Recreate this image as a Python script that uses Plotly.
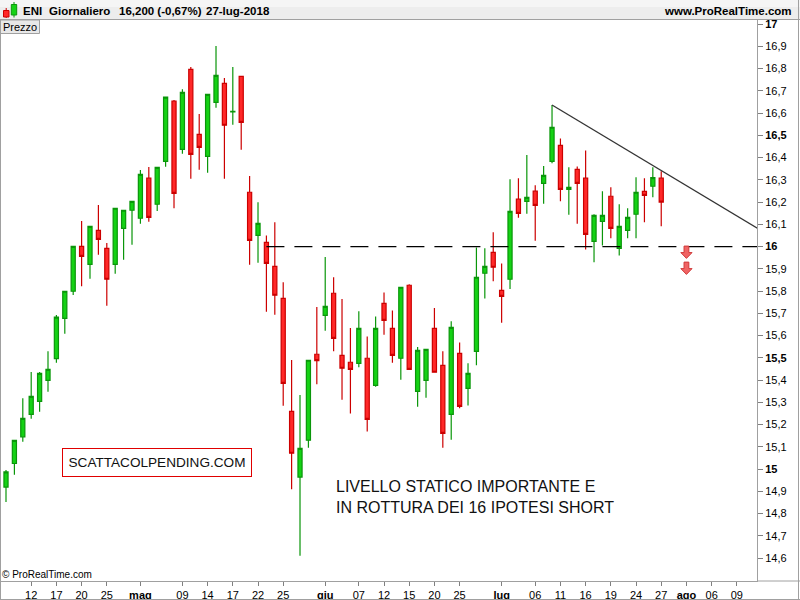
import pandas as pd
import plotly.graph_objects as go

# ---------------- data ----------------
# trading calendar (Borsa Italiana: weekdays, 1 May closed)
calendar = [d.strftime("%Y-%m-%d") for d in pd.bdate_range("2018-04-09", "2018-08-14")
            if d.strftime("%Y-%m-%d") != "2018-05-01"]
n_candles = 79
dates = calendar[:n_candles]

opens = [14.919, 15.025, 15.145, 15.246, 15.304, 15.399, 15.496, 15.677, 15.799, 16.001,
         15.920, 16.073, 15.992, 15.920, 16.082, 16.163, 16.127, 16.307, 16.190, 16.383,
         16.653, 16.437, 16.796, 16.504, 16.405, 16.648, 16.733, 16.605, 16.765, 16.244,
         16.050, 16.019, 15.911, 15.767, 15.259, 14.964, 15.130, 15.516, 15.691, 15.790,
         15.511, 15.480, 15.475, 15.498, 15.376, 15.745, 15.632, 15.498, 15.826, 15.349,
         15.399, 15.632, 15.466, 15.246, 15.520, 15.363, 15.529, 15.880, 15.974, 15.803,
         15.853, 16.213, 16.203, 16.249, 16.284, 16.383, 16.455, 16.257, 16.347, 16.307,
         16.023, 16.113, 16.226, 15.992, 16.073, 16.145, 16.248, 16.271, 16.307]
highs = [14.996, 15.130, 15.318, 15.436, 15.436, 15.530, 15.692, 15.800, 16.002, 16.115,
         16.093, 16.187, 16.016, 16.174, 16.165, 16.205, 16.344, 16.357, 16.357, 16.672,
         16.658, 16.707, 16.807, 16.596, 16.686, 16.901, 16.757, 16.807, 16.767, 16.317,
         16.199, 16.050, 16.109, 15.839, 15.490, 15.333, 15.490, 15.728, 15.953, 15.862,
         15.764, 15.634, 15.709, 15.596, 15.686, 15.794, 15.713, 15.818, 15.831, 15.548,
         15.539, 15.724, 15.530, 15.664, 15.569, 15.475, 15.996, 15.992, 16.064, 15.924,
         16.302, 16.307, 16.411, 16.275, 16.362, 16.636, 16.486, 16.356, 16.360, 16.432,
         16.145, 16.248, 16.266, 16.190, 16.172, 16.311, 16.307, 16.356, 16.338]
lows = [14.852, 14.974, 15.123, 15.226, 15.258, 15.347, 15.478, 15.608, 15.782, 15.822,
        15.855, 15.963, 15.734, 15.878, 15.941, 16.008, 16.102, 16.111, 16.160, 16.359,
        16.172, 16.417, 16.305, 16.345, 16.332, 16.624, 16.305, 16.547, 16.435, 15.918,
        15.927, 15.707, 15.693, 15.284, 14.909, 14.610, 15.096, 15.381, 15.622, 15.529,
        15.311, 15.250, 15.457, 15.169, 15.370, 15.604, 15.478, 15.401, 15.445, 15.280,
        15.320, 15.433, 15.096, 15.132, 15.273, 15.286, 15.466, 15.767, 15.844, 15.658,
        15.809, 16.129, 16.147, 16.026, 16.192, 16.374, 16.203, 16.143, 16.102, 15.987,
        15.929, 16.005, 16.037, 15.960, 16.037, 16.037, 16.109, 16.221, 16.091]
closes = [14.987, 15.129, 15.228, 15.327, 15.430, 15.448, 15.683, 15.799, 16.001, 15.956,
          16.091, 16.032, 15.853, 16.172, 16.163, 16.203, 16.324, 16.131, 16.356, 16.671,
          16.239, 16.693, 16.414, 16.446, 16.684, 16.769, 16.545, 16.608, 16.558, 16.028,
          16.104, 15.924, 15.781, 15.385, 15.071, 15.093, 15.489, 15.487, 15.731, 15.587,
          15.453, 15.448, 15.632, 15.223, 15.632, 15.668, 15.511, 15.817, 15.448, 15.533,
          15.538, 15.435, 15.160, 15.637, 15.282, 15.430, 15.862, 15.911, 15.907, 15.776,
          16.158, 16.149, 16.221, 16.185, 16.320, 16.536, 16.257, 16.266, 16.284, 16.055,
          16.140, 16.140, 16.082, 16.091, 16.131, 16.244, 16.230, 16.310, 16.200]

xtick_dates = ["2018-04-12", "2018-04-17", "2018-04-20", "2018-04-25", "2018-05-02",
               "2018-05-09", "2018-05-14", "2018-05-17", "2018-05-22", "2018-05-25",
               "2018-06-01", "2018-06-07", "2018-06-12", "2018-06-15", "2018-06-20",
               "2018-06-25", "2018-07-02", "2018-07-06", "2018-07-11", "2018-07-16",
               "2018-07-19", "2018-07-24", "2018-07-27", "2018-08-01", "2018-08-06",
               "2018-08-09"]
xtick_text = ["12", "17", "20", "25", "<b>mag</b>", "09", "14", "17", "22", "25",
              "<b>giu</b>", "07", "12", "15", "20", "25", "<b>lug</b>", "06", "11", "16",
              "19", "24", "27", "<b>ago</b>", "06", "09"]

ytick_vals = [14.6, 14.7, 14.8, 14.9, 15.0, 15.1, 15.2, 15.3, 15.4, 15.5, 15.6, 15.7, 15.8,
              15.9, 16.0, 16.1, 16.2, 16.3, 16.4, 16.5, 16.6, 16.7, 16.8, 16.9, 17.0]
ytick_text = ["14,6", "14,7", "14,8", "14,9", "<b>15</b>", "15,1", "15,2", "15,3", "15,4",
              "<b>15,5</b>", "15,6", "15,7", "15,8", "15,9", "<b>16</b>", "16,1", "16,2",
              "16,3", "16,4", "<b>16,5</b>", "16,6", "16,7", "16,8", "16,9", "<b>17</b>"]

# drawn objects on the chart
support_level = 16.0
support_dates = ["2018-05-23", "2018-08-14"]
trend_dates = ["2018-07-10", "2018-08-14"]
trend_prices = [16.636, 16.070]
arrow_dates = ["2018-08-01", "2018-08-01"]
arrow_prices = [16.002, 15.930]

# ---------------- layout constants ----------------
W, H = 800, 600
PL, PR, PT, PB = 1, 757, 20, 581
X_RANGE = [-0.595, 89.40]
Y_RANGE = [14.497, 17.018]
FONT = "Liberation Sans, Arial, sans-serif"
G_LINE, G_FILL = "#0A960A", "#14D214"
R_LINE, R_FILL = "#CC0000", "#FF2828"
GREY = "#a0a0a0"


def PX(x):
    return (x - PL) / (PR - PL)


def PY(y):
    return (PB - y) / (PB - PT)


pos = [calendar.index(d) for d in dates]

fig = go.Figure()
fig.add_trace(go.Candlestick(
    x=pos, open=opens, high=highs, low=lows, close=closes,
    increasing=dict(line=dict(color=G_LINE, width=1.2), fillcolor=G_FILL),
    decreasing=dict(line=dict(color=R_LINE, width=1.2), fillcolor=R_FILL),
    whiskerwidth=0, hoverinfo="skip", showlegend=False,
))

# support dashed line
fig.add_trace(go.Scatter(
    x=[calendar.index(d) for d in support_dates], y=[support_level] * len(support_dates),
    mode="lines", line=dict(color="#000000", width=1.3, dash="18px,10px"),
    hoverinfo="skip", showlegend=False))

# trend line
fig.add_trace(go.Scatter(
    x=[calendar.index(d) for d in trend_dates], y=trend_prices,
    mode="lines", line=dict(color="#333333", width=1.3),
    hoverinfo="skip", showlegend=False))

shapes = []
# red down arrows
arrow_path = "M -2.4,0 L 2.4,0 L 2.4,-6.5 L 5.6,-6.5 L 0,-12.3 L -5.6,-6.5 L -2.4,-6.5 Z"
for d, p in zip(arrow_dates, arrow_prices):
    shapes.append(dict(type="path", xref="x", yref="y", xsizemode="pixel", ysizemode="pixel",
                       xanchor=calendar.index(d), yanchor=p, path=arrow_path,
                       fillcolor="#F06464", line=dict(color="#D03A3A", width=1)))

# header bar
shapes.append(dict(type="rect", xref="paper", yref="paper", x0=PX(0), x1=PX(800), y0=PY(19),
                   y1=PY(0), fillcolor="#ededed", line=dict(width=0), layer="above"))
shapes.append(dict(type="rect", xref="paper", yref="paper", x0=PX(0), x1=PX(800), y0=PY(7),
                   y1=PY(0), fillcolor="#f5f5f5", line=dict(width=0), layer="above"))
shapes.append(dict(type="line", xref="paper", yref="paper", x0=PX(0), x1=PX(800), y0=PY(19.5),
                   y1=PY(19.5), line=dict(color=GREY, width=1), layer="above"))
# header icon
shapes.append(dict(type="line", xref="paper", yref="paper", x0=PX(6.2), x1=PX(6.2), y0=PY(18),
                   y1=PY(8), line=dict(color=R_LINE, width=1), layer="above"))
shapes.append(dict(type="rect", xref="paper", yref="paper", x0=PX(3.5), x1=PX(9), y0=PY(17),
                   y1=PY(10.5), fillcolor=R_FILL, line=dict(color=R_LINE, width=1), layer="above"))
shapes.append(dict(type="line", xref="paper", yref="paper", x0=PX(14), x1=PX(14), y0=PY(17.5),
                   y1=PY(2), line=dict(color=G_LINE, width=1), layer="above"))
shapes.append(dict(type="rect", xref="paper", yref="paper", x0=PX(11.3), x1=PX(16.7), y0=PY(15),
                   y1=PY(4.5), fillcolor=G_FILL, line=dict(color=G_LINE, width=1), layer="above"))
# "Prezzo" box
shapes.append(dict(type="rect", xref="paper", yref="paper", x0=PX(0.5), x1=PX(39.5), y0=PY(33.5),
                   y1=PY(20), fillcolor="#e8e8e8", line=dict(color=GREY, width=1), layer="above"))
# outer frame
shapes.append(dict(type="line", xref="paper", yref="paper", x0=PX(0.5), x1=PX(0.5), y0=PY(600),
                   y1=PY(19.5), line=dict(color=GREY, width=1), layer="above"))
shapes.append(dict(type="line", xref="paper", yref="paper", x0=PX(798.5), x1=PX(798.5), y0=PY(600),
                   y1=PY(0), line=dict(color=GREY, width=1), layer="above"))
shapes.append(dict(type="line", xref="paper", yref="paper", x0=PX(0), x1=PX(800), y0=PY(599.5),
                   y1=PY(599.5), line=dict(color=GREY, width=1), layer="above"))
shapes.append(dict(type="line", xref="paper", yref="paper", x0=PX(757), x1=PX(800), y0=PY(581),
                   y1=PY(581), line=dict(color=GREY, width=1), layer="above"))

annotations = []


def txt(x, y, s, size=11, bold=False, xanchor="left", color="#000000"):
    annotations.append(dict(
        xref="paper", yref="paper", x=PX(x), y=PY(y), text=("<b>%s</b>" % s) if bold else s,
        showarrow=False, xanchor=xanchor, yanchor="middle",
        font=dict(family=FONT, size=size, color=color), borderpad=0))


txt(22, 10.5, "ENI", 11.5, True)
txt(47.5, 10.5, "Giornaliero", 11.5, True)
txt(117.5, 10.5, "16,200 (-0,67%)", 11.5, True)
txt(205, 10.5, "27-lug-2018", 11.5, True)
txt(793, 10.5, "www.ProRealTime.com", 11.5, True, xanchor="right")
txt(2, 26.5, "Prezzo", 11)
txt(1, 574.5, "© ProRealTime.com", 10)

annotations.append(dict(
    xref="paper", yref="paper", x=PX(157.3), y=PY(462.5), text="SCATTACOLPENDING.COM",
    showarrow=False, xanchor="center", yanchor="middle", width=186, height=25,
    bordercolor="#E00000", borderwidth=1, borderpad=1, bgcolor="#ffffff",
    font=dict(family=FONT, size=13.6, color="#111111")))

annotations.append(dict(
    xref="paper", yref="paper", x=PX(334), y=PY(497), align="left",
    text="LIVELLO STATICO IMPORTANTE E<br>IN ROTTURA DEI 16 IPOTESI SHORT",
    showarrow=False, xanchor="left", yanchor="middle",
    font=dict(family=FONT, size=16, color="#111111")))

fig.update_layout(
    width=W, height=H,
    margin=dict(l=PL, r=W - PR, t=PT, b=H - PB, autoexpand=False),
    paper_bgcolor="#ffffff", plot_bgcolor="#ffffff",
    showlegend=False,
    font=dict(family=FONT, size=11, color="#000000"),
    shapes=shapes, annotations=annotations,
    xaxis=dict(range=X_RANGE, tickvals=[calendar.index(d) for d in xtick_dates],
               ticktext=xtick_text, ticks="outside", ticklen=4, tickcolor="#808080",
               showline=True, linecolor=GREY, linewidth=1, showgrid=False, zeroline=False,
               rangeslider=dict(visible=False), tickfont=dict(family=FONT, size=11, color="#000000"),
               fixedrange=True),
    yaxis=dict(side="right", range=Y_RANGE, tickvals=ytick_vals, ticktext=ytick_text,
               ticks="outside", ticklen=5, tickcolor="#808080", showline=True, linecolor=GREY,
               linewidth=1, showgrid=False, zeroline=False,
               tickfont=dict(family=FONT, size=11, color="#000000"), fixedrange=True),
)

fig.write_html("out.html", config={"displayModeBar": False},
               post_script="document.body.style.margin='0';document.body.style.overflow='hidden';")
